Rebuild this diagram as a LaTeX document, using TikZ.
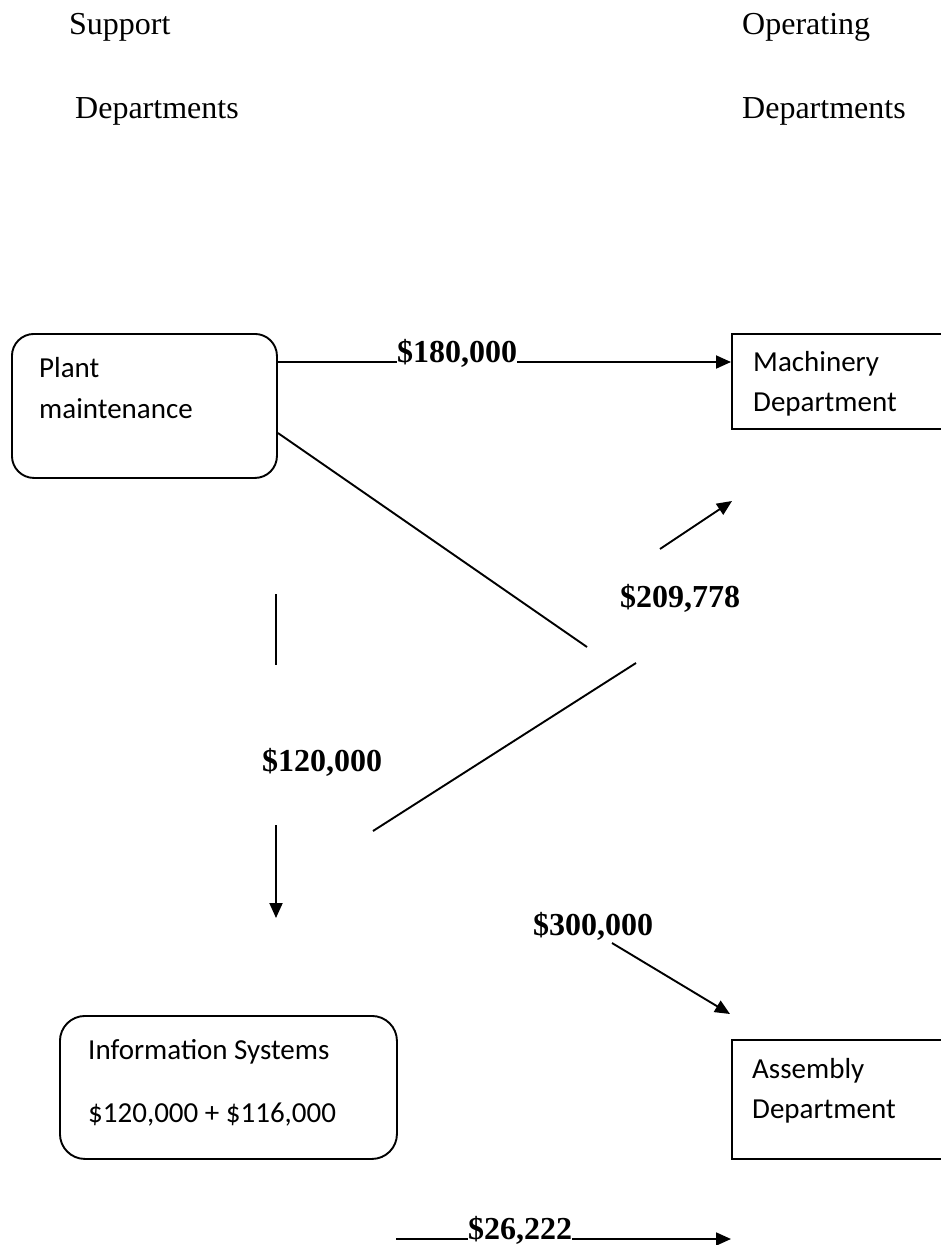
\documentclass[tikz,border=0pt]{standalone}
\usepackage{fontspec}
\setmainfont{Liberation Serif}
\newfontfamily\boxfont{Carlito}
\usetikzlibrary{arrows.meta,calc}
\begin{document}
\begin{tikzpicture}[x=1pt,y=-1pt,
  conn/.style={line width=1.9pt},
  arr/.style={conn,-{Triangle[length=15pt,width=13pt]}},
  rbox/.style={draw,line width=1.9pt,rounded corners=22pt,inner sep=0pt,anchor=north west},
  sbox/.style={draw,line width=1.8pt,inner sep=0pt,anchor=north west},
  head/.style={font=\fontsize{32}{38}\selectfont,anchor=base west,inner sep=0pt},
  amount/.style={font=\fontsize{32}{38}\selectfont\bfseries,anchor=base west,inner sep=0pt},
  btext/.style={font=\boxfont\fontsize{29}{34}\selectfont,anchor=base west,inner sep=0pt},
]
\useasboundingbox (0,0) rectangle (941,1245);
\clip (0,0) rectangle (941,1245);
\fill[white] (0,0) rectangle (941,1245);

% headings
\node[head] (hs1) at (69,34) {Support};
\node[head] (hs2) at (75,118) {Departments};
\node[head] (ho1) at (742,34) {Operating};
\node[head] (ho2) at (742,118) {Departments};

% boxes
\node[rbox,minimum width=265pt,minimum height=144pt] (pm) at (11,333) {};
\node[btext] (pmt1) at (39,377) {Plant};
\node[btext] (pmt2) at (39,418) {maintenance};

\node[sbox,minimum width=240pt,minimum height=95pt] (mach) at (731,333) {};
\node[btext] (mat1) at (753,371) {Machinery};
\node[btext] (mat2) at (753,411) {Department};

\node[rbox,rounded corners=25pt,minimum width=337pt,minimum height=143pt] (is) at (59,1015) {};
\node[btext] (ist1) at (88,1059) {Information Systems};
\node[btext] (ist2) at (88,1122) {\$120,000 + \$116,000};

\node[sbox,minimum width=240pt,minimum height=119pt] (asm) at (731,1039) {};
\node[btext] (ast1) at (752,1078) {Assembly};
\node[btext] (ast2) at (752,1118) {Department};

% amounts
\node[amount] (l180) at (397,362) {\$180,000};
\node[amount] (l209) at (620,607) {\$209,778};
\node[amount] (l120) at (262,771) {\$120,000};
\node[amount] (l300) at (533,935) {\$300,000};
\node[amount] (l262) at (468,1239) {\$26,222};

% free coordinates
\coordinate (a1) at ($(pm.north east)+(0,29)$);
\coordinate (d1) at ($(pm.north east)+(0,100)$);
\coordinate (j1) at (587,647);
\coordinate (j2) at (660,549);
\coordinate (j3) at (732,501);
\coordinate (j4) at (636,663);
\coordinate (j5) at (373,831);
\coordinate (v1) at (276,594);
\coordinate (v2) at (276,665);
\coordinate (v3) at (276,825);
\coordinate (v4) at (276,918);
\coordinate (s1) at (612,943);
\coordinate (s2) at (730,1014);
\coordinate (b1) at (396,1239);

% connectors
\draw[conn] (a1) -- (l180.base west);
\draw[arr] (l180.base east) -- (l180.base east -| mach.west);
\draw[conn] (d1) -- (j1);
\draw[arr] (j2) -- (j3);
\draw[conn] (j4) -- (j5);
\draw[conn] (v1) -- (v2);
\draw[arr] (v3) -- (v4);
\draw[arr] (s1) -- (s2);
\draw[conn] (b1) -- (l262.base west);
\draw[arr] (l262.base east) -- (l262.base east -| asm.west);
\end{tikzpicture}
\end{document}
